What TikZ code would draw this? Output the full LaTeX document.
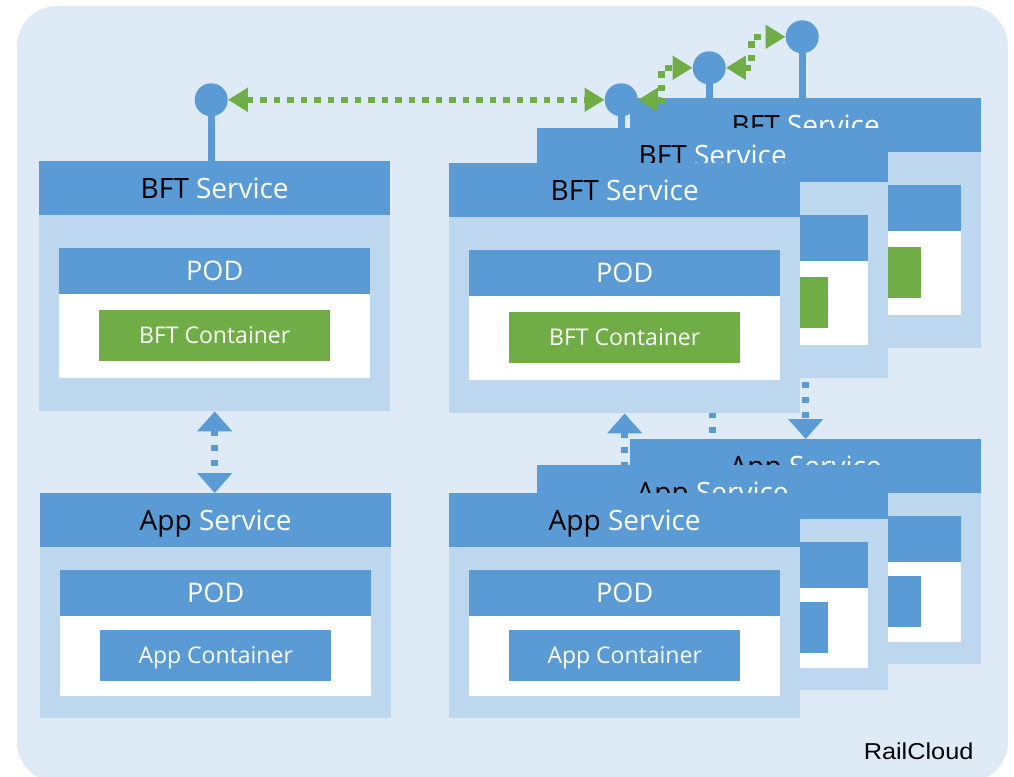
\documentclass[tikz,border=0pt]{standalone}
\usepackage{fontspec}
\setmainfont{Open Sans}
\newfontfamily\railfont[FakeStretch=1.1]{Liberation Sans}
\usetikzlibrary{arrows.meta,positioning}

\definecolor{cblue}{HTML}{5B9BD5}
\definecolor{clight}{HTML}{BDD7EE}
\definecolor{ccloud}{HTML}{DEEBF7}
\definecolor{cgreen}{HTML}{70AD47}

\pgfdeclarelayer{cloud}
\pgfdeclarelayer{links}
\pgfsetlayers{cloud,links,main}

% one service: body, header, POD and container
\newcommand{\svcbox}[9]{%
  \node[body, minimum height=#5pt] (#1) at (#2,#3) {};
  \node[head, below=0pt of #1.north] (#1h) {\textcolor{black}{#4} Service};
  \node[podhead, below=#6pt of #1h] (#1p) {POD};
  \node[podbody, minimum height=#7pt, below=0pt of #1p] (#1w) {};
  \node[cont, fill=#9, below=#8pt of #1p] (#1c) {#4 Container};
}
\newcommand{\bftbox}[3]{\svcbox{#1}{#2}{#3}{BFT}{250}{32}{84}{16}{cgreen}}
\newcommand{\appbox}[3]{\svcbox{#1}{#2}{#3}{App}{225}{22}{80}{14}{cblue}}

\begin{document}
\begin{tikzpicture}[
  x=1pt, y=-1pt,
  body/.style={fill=clight, minimum width=351pt, inner sep=0pt, anchor=north west},
  head/.style={fill=cblue, minimum width=351pt, minimum height=54pt, inner sep=0pt, text=white,
    font=\fontsize{28}{30}\selectfont, text height=20pt, text depth=0pt},
  podhead/.style={fill=cblue, minimum width=311pt, minimum height=46pt, inner sep=0pt, text=white,
    font=\fontsize{27}{30}\selectfont, text height=19.5pt, text depth=0pt},
  podbody/.style={fill=white, minimum width=311pt, inner sep=0pt},
  cont/.style={minimum width=231pt, minimum height=51pt, inner sep=0pt, text=white,
    font=\fontsize{23}{26}\selectfont, text height=16.5pt, text depth=0pt},
  knob/.style={circle, fill=cblue, minimum size=33pt, inner sep=0pt},
  stem/.style={cblue, line width=7pt},
  glink/.style={cgreen, line width=6.5pt, dash pattern=on 6.5pt off 7pt,
    {Triangle[length=20pt,width=23pt]}-{Triangle[length=20pt,width=23pt]}},
  blink/.style={cblue, line width=6.5pt, dash pattern=on 6pt off 9pt,
    {Triangle[length=20pt,width=34pt]}-{Triangle[length=20pt,width=34pt]}}
]
\useasboundingbox (0,0) rectangle (1014,776);
\begin{pgfonlayer}{cloud}
  \fill[white] (0,0) rectangle (1014,776);
  \fill[ccloud, rounded corners=40pt] (17,6) rectangle (1008,782);
\end{pgfonlayer}

% left pair
\bftbox{bftL}{39}{161}
\appbox{appL}{40}{493}

% stacked pairs, back to front
\bftbox{bftc}{630}{98}
\bftbox{bftb}{537}{128}
\bftbox{bfta}{449}{163}
\appbox{appc}{630}{439}
\appbox{appb}{537}{465}
\appbox{appa}{449}{493}

% endpoints
\node[knob, above=44.5pt of bftLh, xshift=-3.5pt] (knobL) {};
\node[knob, above=46.5pt of bftah, xshift=-3.5pt] (knobF) {};
\node[knob, above=43.5pt of bftbh, xshift=-3.5pt] (knobM) {};
\node[knob, above=44.5pt of bftch, xshift=-3.5pt] (knobB) {};

\begin{pgfonlayer}{links}
  \foreach \k/\b in {L/bftL, F/bfta, M/bftb, B/bftc}
    \draw[stem] (knob\k.center) -- (knob\k.center |- \b.north);
  \draw[blink] (bftL.south) -- (bftL.south |- appL.north);
  \foreach \n in {a,b,c}
    \draw[blink] (bft\n.south) -- (app\n.north);
\end{pgfonlayer}

\draw[glink] (knobL) -- (knobF);
\draw[glink] (knobF.east) -| ([xshift=-31pt]knobM.west) -- (knobM.west);
\draw[glink] (knobM.east) -| ([xshift=-34pt]knobB.west) -- (knobB.west);

\node[font=\railfont\fontsize{23}{26}\selectfont, anchor=base east] (railcloud) at (977,759) {RailCloud};
\end{tikzpicture}
\end{document}
